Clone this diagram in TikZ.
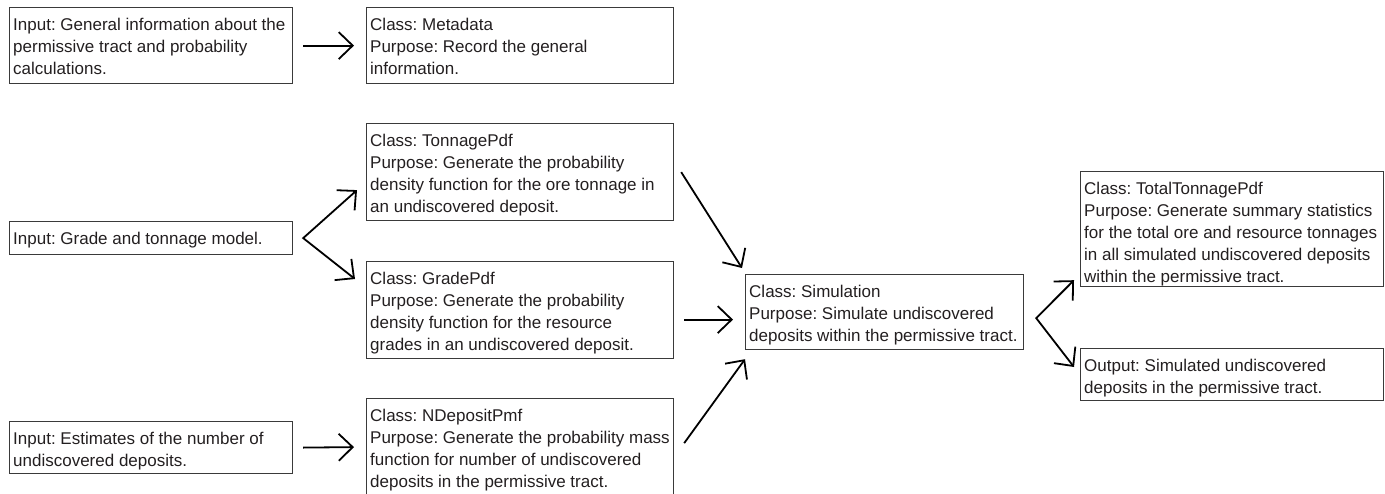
\documentclass[tikz,border=0pt]{standalone}
\usepackage{fontspec}
\setmainfont{Liberation Sans}
\usetikzlibrary{arrows.meta,calc}
\definecolor{txt}{HTML}{231F20}
\definecolor{frame}{HTML}{3A3A3A}
\newcommand{\lns}[1]{\begin{tabular}{@{}l@{}}#1\end{tabular}}
\frenchspacing
\begin{document}
\begin{tikzpicture}[x=1pt,y=-1pt,
  frm/.style={draw=frame, line width=1.2pt, anchor=north west, inner sep=0pt},
  lbl/.style={anchor=north west, inner sep=0pt, text=txt, font=\fontsize{17}{22}\selectfont\frenchspacing},
  arr/.style={line width=1.8pt, line join=miter, -{Straight Barb[length=14pt,width=27pt,line width=1.8pt]}},
  fork/.style={line width=1.8pt, line join=miter, {Straight Barb[length=14pt,width=27pt,line width=1.8pt]}-{Straight Barb[length=14pt,width=27pt,line width=1.8pt]}}
]
\useasboundingbox (0,0) rectangle (1385,493);
% boxes
\node[frm, minimum width=283, minimum height=76] (a)    at (9,7) {};
\node[frm, minimum width=307, minimum height=76] (meta) at (366,7) {};
\node[frm, minimum width=307, minimum height=97] (ton)  at (366,123) {};
\node[frm, minimum width=283, minimum height=33] (gin)  at (9,221) {};
\node[frm, minimum width=307, minimum height=97] (gpdf) at (366,261) {};
\node[frm, minimum width=283, minimum height=52] (est)  at (9,421) {};
\node[frm, minimum width=307, minimum height=97] (ndep) at (366,398) {};
\node[frm, minimum width=278, minimum height=75] (sim)  at (745,274) {};
\node[frm, minimum width=303, minimum height=115] (tt)  at (1080,171) {};
\node[frm, minimum width=303, minimum height=52] (out)  at (1080,348) {};
% texts
\node[lbl] (ta) at ($(a.north west)+(4,7.5)$) {\lns{Input: General information about the\\ permissive tract and probability\\ calculations.}};
\node[lbl] (tmeta) at ($(meta.north west)+(4,7.5)$) {\lns{Class: Metadata\\ Purpose: Record the general\\ information.}};
\node[lbl] (tton) at ($(ton.north west)+(4,7.5)$) {\lns{Class: TonnagePdf\\ Purpose: Generate the probability\\ density function for the ore tonnage in\\ an undiscovered deposit.}};
\node[lbl] (tgin) at ($(gin.north west)+(4,7.5)$) {\lns{Input: Grade and tonnage model.}};
\node[lbl] (tgpdf) at ($(gpdf.north west)+(4,7.5)$) {\lns{Class: GradePdf\\ Purpose: Generate the probability\\ density function for the resource\\ grades in an undiscovered deposit.}};
\node[lbl] (test) at ($(est.north west)+(4,7.5)$) {\lns{Input: Estimates of the number of\\ undiscovered deposits.}};
\node[lbl] (tndep) at ($(ndep.north west)+(4,7.5)$) {\lns{Class: NDepositPmf\\ Purpose: Generate the probability mass\\ function for number of undiscovered\\ deposits in the permissive tract.}};
\node[lbl] (tsim) at ($(sim.north west)+(4,7.5)$) {\lns{Class: Simulation\\ Purpose: Simulate undiscovered\\ deposits within the permissive tract.}};
\node[lbl] (ttt) at ($(tt.north west)+(4,7.5)$) {\lns{Class: TotalTonnagePdf\\ Purpose: Generate summary statistics\\ for the total ore and resource tonnages\\ in all simulated undiscovered deposits\\ within the permissive tract.}};
\node[lbl] (tout) at ($(out.north west)+(4,7.5)$) {\lns{Output: Simulated undiscovered\\ deposits in the permissive tract.}};
% connectors
\draw[arr] ($(a.east)+(10,0)$) -- ($(meta.west)+(-12,0)$);
\draw[arr] ($(est.east)+(10,0)$) -- ($(ndep.west)+(-12,0)$);
\coordinate (f1) at ($(gin.east)+(10,0)$);
\draw[fork] ($(ton.west)+(-9,18)$) -- (f1) -- ($(gpdf.north west)+(-11,18)$);
\draw[arr] ($(ton.east)+(7,0)$) -- ($(sim.north west)+(-3,-6)$);
\draw[arr] ($(gpdf.east)+(10,9.5)$) -- ($(sim.west)+(-12,7.5)$);
\draw[arr] ($(ndep.east)+(10,-4)$) -- ($(sim.south west)+(0,9)$);
\coordinate (f2) at ($(sim.east)+(12,6)$);
\draw[fork] ($(tt.south west)+(-6,-7)$) -- (f2) -- ($(out.north west)+(-6,19)$);
\end{tikzpicture}
\end{document}
